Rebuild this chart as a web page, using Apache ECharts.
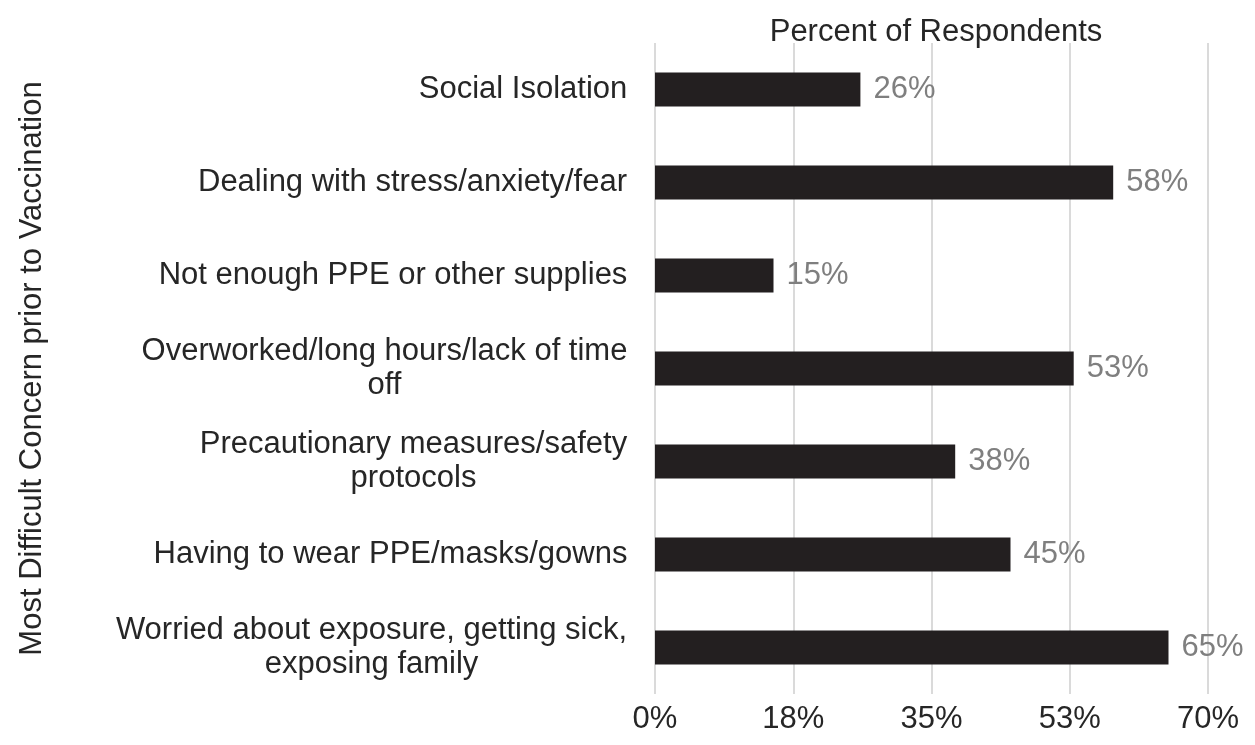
<!DOCTYPE html>
<html>
<head>
<meta charset="utf-8">
<script src="https://cdn.jsdelivr.net/npm/echarts@6/dist/echarts.min.js"></script>
<style>
html,body{margin:0;padding:0;background:#fff;}
#chart{width:1255px;height:745px;}
</style>
</head>
<body>
<div id="chart"></div>
<script>
const categories = [
  "Social Isolation",
  "Dealing with stress/anxiety/fear",
  "Not enough PPE or other supplies",
  "Overworked/long hours/lack of time\noff",
  "Precautionary measures/safety\nprotocols",
  "Having to wear PPE/masks/gowns",
  "Worried about exposure, getting sick,\nexposing family"
];
const values = [26, 58, 15, 53, 38, 45, 65];
const axisMin = 0, axisMax = 70, axisStep = 17.5;
const titleText = "Percent of Respondents";
const yAxisTitle = "Most Difficult Concern prior to Vaccination";

const FONT = '"Liberation Sans", Arial, Helvetica, sans-serif';
const FS = 31;
const ctx = document.createElement('canvas').getContext('2d');
ctx.font = FS + 'px ' + FONT;
const rich = {};
categories.forEach((c, i) => {
  const w = Math.max(...c.split('\n').map(l => ctx.measureText(l).width));
  rich['l' + i] = {width: Math.ceil(w) + 1, align: 'center', fontSize: FS, fontFamily: FONT, color: '#262626', lineHeight: 34};
});

const chart = echarts.init(document.getElementById('chart'), null, {renderer: 'canvas'});
chart.setOption({
  animation: false,
  backgroundColor: '#fff',
  title: {
    text: titleText,
    left: 931,
    textAlign: 'center',
    top: 12,
    textStyle: {fontFamily: FONT, fontSize: FS, fontWeight: 'normal', color: '#262626'}
  },
  grid: {left: 655, right: 47, top: 43, bottom: 51, containLabel: false},
  xAxis: {
    type: 'value',
    min: axisMin, max: axisMax, interval: axisStep,
    axisLine: {show: false},
    axisTick: {show: false},
    splitLine: {show: true, lineStyle: {color: '#dadada', width: 2}},
    axisLabel: {
      formatter: v => Math.round(v) + '%',
      fontFamily: FONT, fontSize: FS, color: '#262626', margin: 10
    }
  },
  yAxis: {
    type: 'category',
    data: categories,
    inverse: true,
    axisLine: {show: false},
    axisTick: {show: false},
    name: yAxisTitle,
    nameLocation: 'middle',
    nameRotate: 90,
    nameGap: 607,
    nameTextStyle: {fontFamily: FONT, fontSize: FS, color: '#262626'},
    axisLabel: {
      margin: 27,
      formatter: (v) => {
        const i = categories.indexOf(v);
        return v.split('\n').map(l => '{l' + i + '|' + l + '}').join('\n');
      },
      rich: rich
    }
  },
  series: [{
    type: 'bar',
    data: values,
    barWidth: 34,
    itemStyle: {color: '#231f20'},
    label: {
      show: true,
      position: 'right',
      distance: 13,
      formatter: p => p.value + '%',
      fontFamily: FONT, fontSize: FS, color: '#7f7f7f'
    }
  }]
});
</script>
</body>
</html>
